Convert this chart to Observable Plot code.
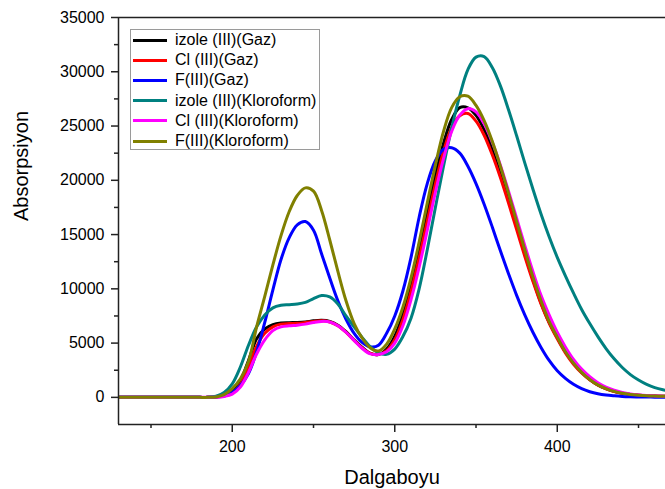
<!DOCTYPE html>
<html>
<head>
<meta charset="utf-8">
<script src="https://cdn.jsdelivr.net/npm/d3@7"></script>
<script src="https://cdn.jsdelivr.net/npm/@observablehq/plot@0.6"></script>
<style>
  body { margin: 0; background: #fff; }
  #chart { position: relative; width: 665px; height: 489px; font-family: "Liberation Sans", Arial, sans-serif; }
  #chart svg { display: block; }
  .legend { position: absolute; left: 130px; top: 29px; width: 190px; height: 121px; box-sizing: border-box;
            border: 1px solid #9a9a9a; background: #fff; }
  .legend .row { display: flex; align-items: center; height: 20.2px; }
  .legend .sw { width: 34px; height: 3px; margin-left: 2px; margin-right: 8px; }
  .legend .lbl { font-size: 16px; color: #000; white-space: nowrap; line-height: 1; }
</style>
</head>
<body>
<div id="chart"></div>
<script>
// Wavelength grid (nm)
const wavelength = [
  130, 135, 140, 145, 150, 155, 160, 165, 170, 175, 180, 185,
  190, 195, 200, 205, 210, 215, 220, 225, 230, 235,
  240, 245, 250, 255, 260, 265, 270, 275, 280, 285,
  290, 295, 300, 305, 310, 315, 320, 325, 330, 335,
  340, 345, 350, 355, 360, 365, 370, 375, 380, 385,
  390, 395, 400, 405, 410, 415, 420, 425, 430, 435,
  440, 445, 450, 455, 460, 465, 470
];

// Absorption spectra
const izoleGaz = [
  0, 0, 0, 0, 0, 0, 0, 0, 0, 0, 0, 0,
  40, 200, 550, 1550, 3400, 5400, 6300, 6700, 6850, 6880,
  6900, 6950, 7050, 7100, 7000, 6650, 6050, 5300, 4600, 4050,
  3950, 4450, 5650, 7650, 10400, 13600, 17050, 20450, 23400, 25600,
  26700, 26680, 25980, 24680, 22880, 20700, 18280, 15750, 13240, 10860,
  8700, 6900, 5500, 4200, 3150, 2300, 1650, 1150, 800, 550,
  380, 270, 200, 150, 120, 100, 90
];
const clGaz = [
  0, 0, 0, 0, 0, 0, 0, 0, 0, 0, 0, 0,
  20, 120, 400, 1200, 2800, 4700, 5900, 6500, 6750, 6800,
  6820, 6900, 7000, 7050, 6950, 6600, 6000, 5250, 4550, 4050,
  3950, 4300, 5300, 7150, 9750, 12850, 16250, 19650, 22650, 24850,
  25950, 26150, 25450, 24150, 22350, 20250, 17900, 15450, 13000, 10700,
  8600, 6850, 5400, 4100, 3050, 2250, 1620, 1130, 790, 540,
  370, 260, 190, 145, 115, 100, 90
];
const fGaz = [
  0, 0, 0, 0, 0, 0, 0, 0, 0, 0, 0, 0,
  30, 150, 450, 1100, 2200, 4200, 6900, 9900, 12700, 14700,
  15900, 16200, 15400, 13200, 11000, 8900, 7200, 5900, 5050, 4650,
  4800, 5900, 7500, 9800, 12900, 16600, 19700, 21800, 22850, 23000,
  22500, 21300, 19700, 17800, 15700, 13500, 11400, 9400, 7600, 6000,
  4600, 3400, 2450, 1750, 1200, 800, 520, 330, 210, 140,
  90, 60, 40, 30, 20, 15, 10
];
const izoleKloroform = [
  0, 0, 0, 0, 0, 0, 0, 0, 0, 0, 0, 0,
  100, 450, 1250, 2800, 4800, 6500, 7600, 8250, 8480, 8540,
  8600, 8750, 9100, 9380, 9250, 8600, 7500, 6500, 5500, 4650,
  4100, 3970, 4450, 5600, 7300, 10000, 13600, 17500, 21300, 24800,
  27800, 30200, 31350, 31400, 30400, 28700, 26500, 24100, 21600, 19200,
  16900, 14800, 12900, 11200, 9600, 8100, 6800, 5600, 4500, 3550,
  2750, 2100, 1600, 1200, 900, 700, 560
];
const clKloroform = [
  0, 0, 0, 0, 0, 0, 0, 0, 0, 0, 0, 0,
  10, 80, 300, 950, 2300, 4000, 5300, 6150, 6500, 6600,
  6650, 6750, 6900, 7000, 6950, 6600, 6000, 5250, 4500, 4000,
  3950, 4200, 5000, 6600, 9000, 12000, 15400, 18900, 22000, 24500,
  26000, 26600, 26300, 25200, 23500, 21400, 19000, 16500, 14000, 11600,
  9400, 7600, 6000, 4650, 3500, 2600, 1900, 1350, 950, 660,
  460, 320, 230, 170, 135, 110, 95
];
const fKloroform = [
  0, 0, 0, 0, 0, 0, 0, 0, 0, 0, 0, 0,
  40, 250, 800, 1700, 3300, 6500, 9300, 12200, 14900, 17100,
  18600, 19300, 19000, 17200, 14500, 11600, 8900, 6800, 5450, 4550,
  4280, 4900, 6300, 8300, 11000, 14300, 17900, 21400, 24500, 26700,
  27700, 27750, 26900, 25500, 23600, 21300, 18800, 16200, 13600, 11100,
  8900, 7000, 5550, 4200, 3150, 2300, 1650, 1150, 800, 550,
  380, 270, 200, 150, 120, 100, 90
];

const seriesNames = [
  "izole (III)(Gaz)", "Cl (III)(Gaz)", "F(III)(Gaz)",
  "izole (III)(Kloroform)", "Cl (III)(Kloroform)", "F(III)(Kloroform)"
];
const seriesColors = ["#000000", "#ff0000", "#0000ff", "#008080", "#ff00ff", "#808000"];
const seriesValues = [izoleGaz, clGaz, fGaz, izoleKloroform, clKloroform, fKloroform];

// Axis ticks
const xMajor = [200, 300, 400];
const xMinor = [150, 250, 350, 450];
const yMajor = [0, 5000, 10000, 15000, 20000, 25000, 30000, 35000];
const yMinor = [2500, 7500, 12500, 17500, 22500, 27500, 32500];
const xDomain = [130, 466.6];
const yDomain = [-2500, 35000];

const lineMarks = seriesValues.map((vals, k) =>
  Plot.line(wavelength, {
    x: d => d,
    y: (d, i) => vals[i],
    stroke: seriesColors[k],
    strokeWidth: 3,
    curve: "catmull-rom",
    clip: true
  })
);

const chart = Plot.plot({
  width: 665,
  height: 489,
  marginLeft: 118,
  marginRight: 0,
  marginTop: 17,
  marginBottom: 65,
  style: { fontFamily: "'Liberation Sans', Arial, sans-serif", fontSize: "16px", background: "white", color: "#000" },
  x: { domain: xDomain },
  y: { domain: yDomain },
  marks: [
    ...lineMarks,
    Plot.ruleX([xDomain[0]], { y1: yDomain[0], y2: yDomain[1], stroke: "#222", strokeWidth: 1.5 }),
    Plot.ruleY([yDomain[0]], { stroke: "#222", strokeWidth: 1.5 }),
    Plot.ruleY([yDomain[1]], { stroke: "#222", strokeWidth: 1.5 }),
    Plot.axisY({ ticks: yMajor, tickSize: 7, tickPadding: 7, fontSize: 16, label: null,
                 tickFormat: d3.format("d"), stroke: "#222", strokeWidth: 1.5 }),
    Plot.axisY({ ticks: yMinor, tickSize: 4, label: null, tickFormat: () => "", stroke: "#222", strokeWidth: 1.5 }),
    Plot.axisX({ ticks: xMajor, tickSize: 8, tickPadding: 8, fontSize: 16, label: null,
                 tickFormat: d3.format("d"), stroke: "#222", strokeWidth: 1.5 }),
    Plot.axisX({ ticks: xMinor, tickSize: 4, label: null, tickFormat: () => "", stroke: "#222", strokeWidth: 1.5 }),
    Plot.text(["Dalgaboyu"], { text: d => d, frameAnchor: "bottom", dy: 59, lineAnchor: "bottom", fontSize: 20 }),
    Plot.text(["Absorpsiyon"], { text: d => d, frameAnchor: "left", dx: -97, rotate: -90, lineAnchor: "middle", fontSize: 20 })
  ]
});

const root = document.getElementById("chart");
root.appendChild(chart);

// Legend box inside the plot area
const legend = document.createElement("div");
legend.className = "legend";
seriesNames.forEach((name, k) => {
  const row = document.createElement("div");
  row.className = "row";
  const sw = document.createElement("div");
  sw.className = "sw";
  sw.style.background = seriesColors[k];
  const lbl = document.createElement("span");
  lbl.className = "lbl";
  lbl.textContent = name;
  row.appendChild(sw);
  row.appendChild(lbl);
  legend.appendChild(row);
});
root.appendChild(legend);
</script>
</body>
</html>
